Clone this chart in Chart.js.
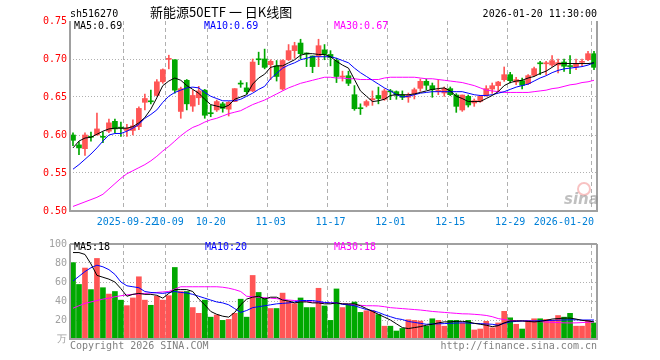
<!DOCTYPE html>
<html>
<head>
<meta charset="utf-8">
<style>
    body { margin: 0; background: #fff; width: 660px; height: 360px; overflow: hidden; position: relative; font-family: "DejaVu Sans Mono", monospace; }
    .t { position: absolute; font-size: 10px; line-height: 12px; white-space: nowrap; }
    .r { text-align: right; }
</style>
<script src="https://cdn.jsdelivr.net/npm/chart.js@4.4.1/dist/chart.umd.min.js"></script>
</head>
<body>
<canvas id="priceChart" width="660" height="235" style="position:absolute;left:0;top:0"></canvas>
<canvas id="volChart" width="660" height="125" style="position:absolute;left:0;top:235px"></canvas>

<div class="t" style="left:70px;top:8px;color:#000">sh516270</div>
<div class="t" style="left:150px;top:4px;font-size:13px;line-height:16px;font-family:'Noto Sans CJK SC',sans-serif;color:#000">新能源50ETF 一 日K线图</div>
<div class="t r" style="right:63px;top:8px;color:#000">2026-01-20 11:30:00</div>

<div class="t" style="left:74px;top:20px;color:#000">MA5:0.69</div>
<div class="t" style="left:204px;top:20px;color:#0000ff">MA10:0.69</div>
<div class="t" style="left:334px;top:20px;color:#ff00ff">MA30:0.67</div>

<div class="t" style="left:74px;top:241px;color:#000">MA5:18</div>
<div class="t" style="left:205px;top:241px;color:#0000ff">MA10:20</div>
<div class="t" style="left:334px;top:241px;color:#ff00ff">MA30:18</div>

<div class="t" style="left:577px;top:182px;width:10px;height:10px;border-radius:50%;border:2px solid rgba(240,120,120,0.45)"></div>
<div class="t" style="left:564px;top:190px;font:italic bold 15px 'DejaVu Sans',sans-serif;line-height:18px;color:rgba(140,140,140,0.55)">sina</div>

<div class="t" style="left:70px;top:340px;color:#808080">Copyright 2026 SINA.COM</div>
<div class="t r" style="right:63px;top:340px;color:#808080">http://finance.sina.com.cn</div>

<script>
const dates = [
    "2025-09-09", "2025-09-10", "2025-09-11", "2025-09-12", "2025-09-15", "2025-09-16", "2025-09-17", "2025-09-18", "2025-09-19",
    "2025-09-22", "2025-09-23", "2025-09-24", "2025-09-25", "2025-09-26", "2025-09-29", "2025-09-30",
    "2025-10-09", "2025-10-10", "2025-10-13", "2025-10-14", "2025-10-15", "2025-10-16", "2025-10-17",
    "2025-10-20", "2025-10-21", "2025-10-22", "2025-10-23", "2025-10-24", "2025-10-27", "2025-10-28", "2025-10-29", "2025-10-30", "2025-10-31",
    "2025-11-03", "2025-11-04", "2025-11-05", "2025-11-06", "2025-11-07", "2025-11-10", "2025-11-11", "2025-11-12", "2025-11-13", "2025-11-14",
    "2025-11-17", "2025-11-18", "2025-11-19", "2025-11-20", "2025-11-21", "2025-11-24", "2025-11-25", "2025-11-26", "2025-11-27", "2025-11-28",
    "2025-12-01", "2025-12-02", "2025-12-03", "2025-12-04", "2025-12-05", "2025-12-08", "2025-12-09", "2025-12-10", "2025-12-11", "2025-12-12",
    "2025-12-15", "2025-12-16", "2025-12-17", "2025-12-18", "2025-12-19", "2025-12-22", "2025-12-23", "2025-12-24", "2025-12-25", "2025-12-26",
    "2025-12-29", "2025-12-30", "2025-12-31",
    "2026-01-05", "2026-01-06", "2026-01-07", "2026-01-08", "2026-01-09", "2026-01-12", "2026-01-13", "2026-01-14", "2026-01-15", "2026-01-16",
    "2026-01-19", "2026-01-20",
];

// date ticks shown under the price panel
const tickDates = ["2025-09-22", "2025-10-09", "2025-10-20", "2025-11-03", "2025-11-17", "2025-12-01", "2025-12-15", "2025-12-29", "2026-01-20"];
const tickText = ["2025-09-22", "10-09", "10-20", "11-03", "11-17", "12-01", "12-15", "12-29", "2026-01-20"];

const opens = [
    0.600, 0.587, 0.582, 0.598, 0.600, 0.598, 0.605, 0.618, 0.610, 0.606,
    0.606, 0.611, 0.643, 0.6443, 0.652, 0.670, 0.6995, 0.699, 0.631, 0.672,
    0.638, 0.649, 0.659, 0.629, 0.633, 0.641, 0.634, 0.644, 0.6675, 0.662,
    0.658, 0.6995, 0.700, 0.6925, 0.691, 0.6605, 0.699, 0.711, 0.721, 0.707,
    0.704, 0.704, 0.712, 0.706, 0.698, 0.6763, 0.678, 0.653, 0.6348, 0.639,
    0.6465, 0.652, 0.647, 0.657, 0.657, 0.6526, 0.6496, 0.6544, 0.6614, 0.6706,
    0.6649, 0.6573, 0.6553, 0.661, 0.6526, 0.6329, 0.6509, 0.6421, 0.6443, 0.6518,
    0.6605, 0.6649, 0.6728, 0.6794, 0.6697, 0.6715, 0.6675, 0.6785, 0.694, 0.6937,
    0.6921, 0.6921, 0.696, 0.6904, 0.6895, 0.6956, 0.6991, 0.707,
];
const highs = [
    0.603, 0.591, 0.603, 0.604, 0.629, 0.604, 0.621, 0.621, 0.617, 0.614,
    0.620, 0.637, 0.654, 0.659, 0.673, 0.687, 0.705, 0.699, 0.663, 0.673,
    0.659, 0.664, 0.660, 0.639, 0.646, 0.643, 0.644, 0.661, 0.6715, 0.669,
    0.700, 0.709, 0.713, 0.699, 0.698, 0.699, 0.719, 0.722, 0.726, 0.708,
    0.704, 0.726, 0.719, 0.711, 0.701, 0.684, 0.684, 0.665, 0.641, 0.646,
    0.658, 0.663, 0.6605, 0.660, 0.658, 0.658, 0.6553, 0.6618, 0.6737, 0.6737,
    0.6684, 0.6728, 0.6632, 0.6632, 0.6544, 0.6526, 0.6526, 0.6474, 0.6522, 0.6649,
    0.6684, 0.6706, 0.6895, 0.6825, 0.6759, 0.675, 0.6794, 0.6895, 0.697, 0.697,
    0.7044, 0.700, 0.700, 0.7044, 0.700, 0.700, 0.7101, 0.7101,
];
const lows = [
    0.586, 0.574, 0.573, 0.592, 0.600, 0.590, 0.603, 0.603, 0.598, 0.598,
    0.600, 0.607, 0.633, 0.641, 0.651, 0.668, 0.687, 0.655, 0.622, 0.633,
    0.631, 0.640, 0.622, 0.624, 0.631, 0.630, 0.625, 0.644, 0.6627, 0.654,
    0.657, 0.6925, 0.687, 0.673, 0.671, 0.659, 0.698, 0.701, 0.700, 0.690,
    0.682, 0.690, 0.699, 0.691, 0.669, 0.671, 0.665, 0.6325, 0.627, 0.637,
    0.639, 0.641, 0.6456, 0.6465, 0.647, 0.6465, 0.643, 0.6474, 0.6575, 0.6596,
    0.6496, 0.6531, 0.6509, 0.6518, 0.6298, 0.6311, 0.6368, 0.6377, 0.643, 0.6509,
    0.6548, 0.6575, 0.6706, 0.6684, 0.6662, 0.6605, 0.6662, 0.6772, 0.6794, 0.6794,
    0.6904, 0.6816, 0.6838, 0.6807, 0.686, 0.6912, 0.6978, 0.686,
];
const closes = [
    0.593, 0.583, 0.600, 0.597, 0.608, 0.597, 0.616, 0.608, 0.609, 0.609,
    0.612, 0.635, 0.648, 0.6437, 0.670, 0.686, 0.700, 0.659, 0.661, 0.641,
    0.652, 0.658, 0.626, 0.628, 0.644, 0.635, 0.643, 0.661, 0.667, 0.657,
    0.696, 0.699, 0.689, 0.697, 0.677, 0.698, 0.711, 0.7175, 0.707, 0.7066,
    0.690, 0.7175, 0.706, 0.702, 0.677, 0.6768, 0.668, 0.6346, 0.6346, 0.644,
    0.647, 0.648, 0.658, 0.6568, 0.6526, 0.6496, 0.6522, 0.6596, 0.6706, 0.6654,
    0.6596, 0.6577, 0.661, 0.6531, 0.6377, 0.6526, 0.6395, 0.6452, 0.6509, 0.661,
    0.6649, 0.6697, 0.6794, 0.6715, 0.6728, 0.6654, 0.6781, 0.6873, 0.6937, 0.6942,
    0.6978, 0.6952, 0.6904, 0.690, 0.6934, 0.6962, 0.707, 0.689,
];

// moving averages as drawn on the reference (earlier history is not visible)
const ma5 = [
    0.583, 0.592, 0.596, 0.597, 0.601, 0.605, 0.608, 0.609, 0.609, 0.609,
    0.611, 0.616, 0.623, 0.634, 0.649, 0.665, 0.671, 0.675, 0.672, 0.665,
    0.660, 0.655, 0.647, 0.640, 0.638, 0.636, 0.639, 0.647, 0.650, 0.653,
    0.667, 0.675, 0.680, 0.689, 0.691, 0.691, 0.695, 0.699, 0.705, 0.707,
    0.707, 0.706, 0.706, 0.703, 0.697, 0.692, 0.688, 0.673, 0.658, 0.651,
    0.644, 0.645, 0.647, 0.652, 0.653, 0.653, 0.653, 0.654, 0.656, 0.658,
    0.660, 0.661, 0.662, 0.658, 0.651, 0.648, 0.644, 0.644, 0.644, 0.648,
    0.652, 0.657, 0.665, 0.669, 0.671, 0.672, 0.675, 0.677, 0.681, 0.684,
    0.689, 0.694, 0.694, 0.694, 0.694, 0.694, 0.694, 0.695,
];
const ma10 = [
    0.555, 0.561, 0.568, 0.575, 0.583, 0.592, 0.600, 0.602, 0.602, 0.605,
    0.609, 0.614, 0.622, 0.627, 0.633, 0.643, 0.651, 0.656, 0.659, 0.662,
    0.663, 0.662, 0.656, 0.651, 0.648, 0.645, 0.645, 0.645, 0.647, 0.651,
    0.655, 0.660, 0.664, 0.674, 0.681, 0.688, 0.692, 0.695, 0.699, 0.701,
    0.703, 0.703, 0.703, 0.703, 0.701, 0.698, 0.695, 0.688, 0.682, 0.677,
    0.672, 0.667, 0.662, 0.658, 0.653, 0.650, 0.651, 0.653, 0.655, 0.656,
    0.657, 0.657, 0.657, 0.657, 0.657, 0.657, 0.655, 0.653, 0.652, 0.652,
    0.653, 0.655, 0.657, 0.660, 0.663, 0.665, 0.667, 0.671, 0.675, 0.678,
    0.682, 0.685, 0.687, 0.688, 0.689, 0.690, 0.692, 0.695,
];
const ma30 = [
    0.506, 0.509, 0.512, 0.515, 0.518, 0.522, 0.529, 0.536, 0.543, 0.549,
    0.553, 0.557, 0.561, 0.566, 0.572, 0.579, 0.585, 0.592, 0.599, 0.605,
    0.610, 0.613, 0.617, 0.620, 0.622, 0.625, 0.628, 0.630, 0.632, 0.636,
    0.640, 0.643, 0.646, 0.650, 0.654, 0.658, 0.662, 0.665, 0.668, 0.670,
    0.672, 0.674, 0.676, 0.676, 0.675, 0.675, 0.674, 0.674, 0.673, 0.673,
    0.673, 0.673, 0.675, 0.676, 0.676, 0.676, 0.676, 0.676, 0.675, 0.674,
    0.674, 0.673, 0.672, 0.671, 0.670, 0.669, 0.667, 0.665, 0.662, 0.659,
    0.658, 0.657, 0.656, 0.656, 0.656, 0.656, 0.656, 0.657, 0.658, 0.659,
    0.661, 0.662, 0.664, 0.666, 0.667, 0.669, 0.670, 0.672,
];

// volume in 万
const vols = [
    80.4, 57.4, 74.7, 52, 84.8, 54, 47.3, 50, 40.9, 35.1,
    43.2, 65.5, 40.9, 35.5, 44.9, 40.9, 45.6, 75.3, 50, 50,
    33.1, 27, 40.9, 23, 25.3, 19.6, 20.6, 27, 41.9, 23,
    66.9, 49, 43.2, 32.1, 32.1, 48.3, 39.9, 37.2, 43.2, 33.1,
    33.1, 53.4, 34.8, 19.6, 52.7, 33.1, 36.5, 38.9, 28, 29.7,
    29.7, 25.7, 13.5, 13.5, 8.4, 11.1, 20.3, 19.6, 18.9, 13.5,
    21.3, 19.6, 13.5, 19.6, 19.6, 16.9, 19.6, 9.5, 10.5, 18.6,
    11.8, 16.9, 29.1, 22.3, 15.5, 10.5, 19.6, 21.3, 21.3, 20.6,
    19.6, 24.7, 23, 27, 13.5, 13.5, 19.6, 16.9,
];
const volMa5 = [
    91, 91, 89, 79, 67, 65, 63, 60, 53, 45,
    47, 48, 47, 47, 46, 43, 48, 52, 52, 52,
    50, 42, 36, 29, 26, 24, 23, 28, 36, 42,
    44, 45, 42, 44, 44, 41, 40, 38, 39, 39,
    38, 38, 37, 37, 38, 37, 37, 37, 35, 32,
    29, 26, 23, 20, 16, 12, 11, 12, 13, 14.5,
    15.5, 17, 18, 18, 18.6, 18.6, 18, 16.5, 15.5, 14.5,
    13, 14, 17, 19, 19, 19, 18.5, 18, 18.5, 19.6,
    21, 21.5, 22, 22, 21, 19.6, 19, 18,
];
const volMa10 = [
    61, 66, 71, 75, 77.7, 76, 73, 68, 60, 56,
    55, 54, 50, 49, 48.5, 48, 49, 50, 49, 48.5,
    47, 45, 43, 41, 39, 38, 36, 32, 28, 30,
    33, 34, 35, 36, 37, 37.5, 38, 39, 40.5, 40.5,
    40.5, 39.5, 38.5, 38, 38, 36.5, 36, 35, 33, 31,
    30, 28, 25.5, 23.5, 21.5, 20.5, 18.5, 17.5, 16.5, 15.5,
    15.8, 16, 16.2, 16.5, 16.8, 17, 16.8, 16.4, 16.2, 15.8,
    15.5, 14.5, 16.5, 18, 18.5, 19, 19, 19, 19.2, 19.4,
    19.6, 19.8, 20, 20.2, 20.2, 20, 20, 20,
];
const volMa30 = [
    32.4, 35, 37.5, 39, 40.5, 42, 43, 44.5, 45.5, 46.5,
    47, 47.5, 48, 48.5, 49, 49.5, 50, 52.5, 55, 55,
    55, 55, 55, 55, 55, 54.5, 53.5, 52, 50, 45,
    44.5, 44, 43.5, 43, 42.5, 41.6, 41, 40.5, 40, 39.5,
    39, 38.5, 38.2, 38.2, 37.8, 37.2, 36.5, 36, 35.5, 35,
    35, 34.8, 34, 33, 32.5, 32, 31.5, 31, 30.5, 29.8,
    29, 28.5, 28, 27.5, 27, 26.5, 26.4, 26, 25.5, 24.8,
    23.5, 21.5, 20.5, 19.6, 19.3, 19, 18.9, 18.6, 18.2, 17.9,
    17.6, 17.3, 17, 16.9, 17, 17.3, 17.7, 18,
];

const UP = "#ff5555";
const DOWN = "#00a800";
const GRID = "#b0b0b0";

Chart.defaults.font.family = "'DejaVu Sans Mono', monospace";
Chart.defaults.font.size = 10;

const tickIdx = tickDates.map((d) => dates.indexOf(d));
const candleColors = opens.map((o, i) => (closes[i] >= o ? UP : DOWN));

const framePlugin = {
    id: "frame",
    afterDraw(chart, args, opts) {
        const { ctx, chartArea: a } = chart;
        ctx.save();
        ctx.strokeStyle = "#a0a0a0";
        ctx.lineWidth = 2;
        ctx.beginPath();
        if (opts.top) {
            ctx.moveTo(a.left, a.top);
            ctx.lineTo(a.right, a.top);
        }
        ctx.moveTo(a.left, a.top);
        ctx.lineTo(a.left, a.bottom);
        ctx.lineTo(a.right, a.bottom);
        ctx.lineTo(a.right, a.top);
        ctx.stroke();
        ctx.restore();
    },
};

function maLine(data, color) {
    return {
        type: "line",
        data: data,
        borderColor: color,
        borderWidth: 1,
        pointRadius: 0,
        tension: 0,
        order: 0,
    };
}

function xScale(showLabels) {
    return {
        type: "category",
        offset: true,
        grid: {
            offset: true,
            drawTicks: false,
            color: (c) => (tickIdx.includes(c.index) ? GRID : "rgba(0,0,0,0)"),
        },
        border: { display: false, dash: [4, 3] },
        ticks: {
            display: showLabels,
            autoSkip: false,
            maxRotation: 0,
            minRotation: 0,
            align: "inner",
            padding: 5,
            color: "#0080d8",
            callback: function (value, index) {
                const k = tickIdx.indexOf(index);
                return k >= 0 ? tickText[k] : "";
            },
        },
        afterFit: (scale) => {
            scale.height = showLabels ? 24 : 0;
        },
    };
}

function renderPrice() {
    const ctx = document.getElementById("priceChart").getContext("2d");
    new Chart(ctx, {
        type: "bar",
        data: {
            labels: dates,
            datasets: [
                maLine(ma5, "#000000"),
                maLine(ma10, "#0000ff"),
                maLine(ma30, "#ff00ff"),
                {
                    data: opens.map((o, i) => [o, closes[i]]),
                    backgroundColor: candleColors,
                    barThickness: 5,
                    minBarLength: 1,
                    grouped: false,
                    order: 1,
                },
                {
                    data: lows.map((l, i) => [l, highs[i]]),
                    backgroundColor: candleColors,
                    barThickness: 1,
                    grouped: false,
                    order: 2,
                },
            ],
        },
        options: {
            responsive: false,
            animation: false,
            devicePixelRatio: 1,
            layout: { padding: { left: 0, right: 63, top: 21, bottom: 0 } },
            plugins: { legend: { display: false }, tooltip: { enabled: false }, frame: { top: false } },
            scales: {
                x: xScale(true),
                y: {
                    min: 0.5,
                    max: 0.75,
                    grid: {
                        drawTicks: false,
                        color: (c) => (c.tick && c.tick.value > 0.501 && c.tick.value < 0.749 ? GRID : "rgba(0,0,0,0)"),
                    },
                    border: { display: false, dash: [1, 2] },
                    ticks: {
                        stepSize: 0.05,
                        padding: 3,
                        color: "#ff0000",
                        callback: (v) => v.toFixed(2),
                    },
                    afterFit: (scale) => {
                        scale.width = 70;
                    },
                },
            },
        },
        plugins: [framePlugin],
    });
}

function renderVolume() {
    const ctx = document.getElementById("volChart").getContext("2d");
    new Chart(ctx, {
        type: "bar",
        data: {
            labels: dates,
            datasets: [
                maLine(volMa5, "#000000"),
                maLine(volMa10, "#0000ff"),
                maLine(volMa30, "#ff00ff"),
                {
                    data: vols,
                    backgroundColor: candleColors,
                    barThickness: 5,
                    grouped: false,
                    order: 1,
                },
            ],
        },
        options: {
            responsive: false,
            animation: false,
            devicePixelRatio: 1,
            layout: { padding: { left: 0, right: 63, top: 6, bottom: 21 } },
            plugins: { legend: { display: false }, tooltip: { enabled: false }, frame: { top: true } },
            scales: {
                x: xScale(false),
                y: {
                    min: 0,
                    max: 100,
                    grid: {
                        drawTicks: false,
                        color: (c) => (c.tick && c.tick.value > 0 && c.tick.value < 100 ? GRID : "rgba(0,0,0,0)"),
                    },
                    border: { display: false, dash: [1, 2] },
                    ticks: {
                        stepSize: 20,
                        padding: 3,
                        color: "#a0a0a0",
                        callback: (v) => (v === 0 ? "万" : v),
                    },
                    afterFit: (scale) => {
                        scale.width = 70;
                    },
                },
            },
        },
        plugins: [framePlugin],
    });
}

renderPrice();
renderVolume();
</script>
</body>
</html>
